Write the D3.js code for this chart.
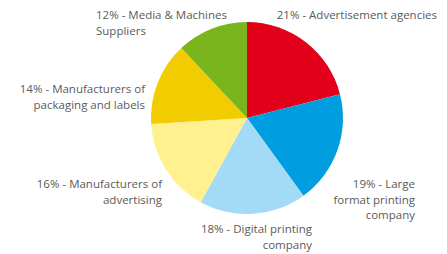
<!DOCTYPE html>
<head>
    <meta charset="utf-8">
    <script src="https://d3js.org/d3.v7.min.js"></script>
    <style>
        body { margin: 0; background: #fff; }
        svg text { font-family: "Open Sans", sans-serif; font-size: 11.5px; fill: #5a5a5a; }
    </style>
</head>
<body>
    <svg id="chart" width="447" height="254"></svg>
    <script>
        // data
        var categories = [
            ["21% - Advertisement agencies"],
            ["19% - Large", "format printing", "company"],
            ["18% - Digital printing", "company"],
            ["16% - Manufacturers of", "advertising"],
            ["14% - Manufacturers of", "packaging and labels"],
            ["12% - Media & Machines", "Suppliers"]
        ];
        var values = [21, 19, 18, 16, 14, 12];
        var colors = ["#e2001a", "#009ee0", "#a3daf5", "#fff18f", "#f0cc00", "#7ab51d"];

        // label anchors (layout only)
        var labelPos = [
            { x: 437, y: 19, anchor: "end" },
            { x: 415, y: 188, anchor: "end" },
            { x: 312, y: 233, anchor: "end" },
            { x: 162, y: 188, anchor: "end" },
            { x: 145, y: 93, anchor: "end" },
            { x: 96, y: 19, anchor: "start" }
        ];

        var cx = 247, cy = 118, radius = 96, lineH = 15.6;

        var svg = d3.select("#chart");
        var pie = d3.pie().sort(null)(values);
        var arc = d3.arc().innerRadius(0).outerRadius(radius);

        var g = svg.append("g").attr("transform", "translate(" + cx + "," + cy + ")");
        g.selectAll("path")
            .data(pie).enter()
            .append("path")
            .attr("d", arc)
            .attr("fill", function(d, i) { return colors[i]; });

        var labels = svg.selectAll("text.label")
            .data(categories).enter()
            .append("text")
            .attr("class", "label")
            .attr("text-anchor", function(d, i) { return labelPos[i].anchor; })
            .attr("transform", function(d, i) {
                return "translate(" + labelPos[i].x + "," + labelPos[i].y + ")";
            });

        labels.selectAll("tspan")
            .data(function(d) { return d; }).enter()
            .append("tspan")
            .attr("x", 0)
            .attr("y", function(d, i) { return i * lineH; })
            .text(function(d) { return d; });
    </script>
</body>
